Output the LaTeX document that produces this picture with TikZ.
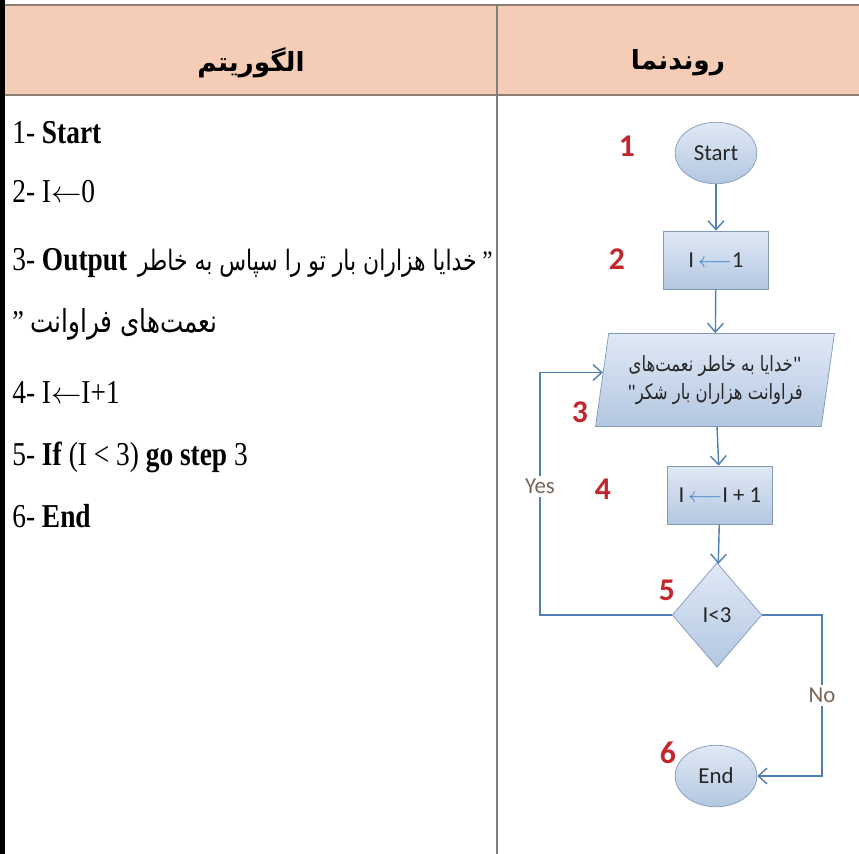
\documentclass[tikz,border=0pt]{standalone}
\usepackage{fontspec}
\usetikzlibrary{shapes.geometric,arrows.meta,calc}
\TeXXeTstate=1
\setmainfont{Liberation Serif}[FakeStretch=0.82]
\newfontfamily\fa[Script=Arabic,FakeStretch=0.78]{DejaVu Sans}
\newfontfamily\fahead[Script=Arabic]{DejaVu Sans}
\newfontfamily\flfont{Carlito}
\definecolor{hdrfill}{HTML}{F5CDB6}
\definecolor{hdrline}{HTML}{8C7D73}
\definecolor{gridline}{HTML}{7F7F7F}
\definecolor{shapetop}{HTML}{E0E9F5}
\definecolor{shapebot}{HTML}{B3C7E1}
\definecolor{shapeline}{HTML}{8199B6}
\definecolor{flowblue}{HTML}{4F7FB5}
\definecolor{arrowblue}{HTML}{3F80CC}
\definecolor{numred}{HTML}{C1272D}
\definecolor{lblbrown}{HTML}{7A6556}

\begin{document}
\begin{tikzpicture}[x=0.02cm,y=-0.02cm,
  alg/.style={anchor=base west,inner sep=0pt,font=\fontsize{19}{22}\selectfont},
  algfa/.style={alg,font=\fontsize{16}{22}\selectfont},
  hdr/.style={font=\fahead\bfseries\fontsize{15}{18}\selectfont},
  shp/.style={draw=shapeline,top color=shapetop,bottom color=shapebot,inner sep=1pt,
    text=black!85,font=\flfont\fontsize{13}{15}\selectfont},
  termbox/.style={shp,ellipse,minimum width=46.5pt,minimum height=35pt},
  procbox/.style={shp,rectangle,minimum width=59.5pt,minimum height=33pt},
  iobox/.style={shp,trapezium,trapezium left angle=76,trapezium right angle=104,
    trapezium stretches body,minimum width=136pt,minimum height=53pt,
    align=center,font=\fa\fontsize{12}{16}\selectfont},
  decbox/.style={shp,diamond,aspect=0.86,minimum width=51pt,minimum height=59.5pt},
  num/.style={text=numred,font=\flfont\bfseries\fontsize{18}{20}\selectfont},
  lbl/.style={fill=white,text=lblbrown,inner sep=2pt,font=\flfont\fontsize{13}{15}\selectfont},
  flow/.style={draw=flowblue,line width=0.8pt,-{Straight Barb[length=5pt,width=9pt]}}]

  \useasboundingbox (0,0) rectangle (859,854);
  \fill[white] (0,0) rectangle (859,854);
  \fill[black] (0,0) rectangle (5,854);

  % table frame
  \fill[hdrfill] (5,5) rectangle (859,95);
  \draw[hdrline,line width=0.6pt] (5,5) -- (859,5);
  \draw[hdrline,line width=1.4pt] (5,95) -- (859,95);
  \draw[gridline,line width=0.8pt] (497,5) -- (497,854);
  \node[hdr] (h1) at (251,63) {الگوریتم};
  \node[hdr] (h2) at (678,63) {روندنما};

  % algorithm
  \node[alg] (l1) at (12,144) {1- \textbf{Start}};
  \node[alg] (l2) at (12,203) {2- I$\leftarrow$0};
  \node[alg] (l3) at (12,271) {3- \textbf{Output}};
  \node[algfa,anchor=base east] (l3p) at (493,271) {\beginR{\rmfamily”} {\fa خدایا هزاران بار تو را سپاس به خاطر}\endR};
  \node[algfa,font=\fontsize{18}{22}\selectfont] (l3b) at (12,333) {\beginR{\fa نعمت^^^^200cهای فراوانت} {\rmfamily”}\endR};
  \node[alg] (l4) at (12,404) {4- I$\leftarrow$I+1};
  \node[alg] (l5) at (12,466) {5- \textbf{If} (I < 3) \textbf{go step} 3};
  \node[alg] (l6) at (12,528) {6- \textbf{End}};

  % flowchart
  \node[termbox] (start) at (716,153) {Start};
  \node[procbox] (init) at (716,260) {I\,{\color{arrowblue}$\longleftarrow$}1};
  \node[iobox] (out) at (715,380) {\beginR{\flfont"}خدایا به خاطر نعمت^^^^200cهای\endR\\
    \beginR فراوانت هزاران بار شکر{\flfont"}\endR};
  \node[procbox] (inc) at (720,495) {I\,{\color{arrowblue}$\longleftarrow$}I + 1};
  \node[decbox] (cond) at (717,615) {I<3};
  \node[termbox] (stop) at (716,776) {End};

  \node[num] (n1) at (627,146) {1};
  \node[num] (n2) at (617,259) {2};
  \node[num] (n3) at (580,412) {3};
  \node[num] (n4) at (603,489) {4};
  \node[num] (n5) at (667,590) {5};
  \node[num] (n6) at (668,753) {6};

  \coordinate (loopL) at (540,0);
  \coordinate (loopR) at (822,0);
  \coordinate (outin) at ($(out.top left corner)!0.42!(out.bottom left corner)$);

  \draw[flow] (start) -- (init);
  \draw[flow] (init) -- (out);
  \draw[flow] (out) -- (inc);
  \draw[flow] (inc) -- (cond);
  \draw[flow] (cond.west) -- (cond.west -| loopL) -- node[lbl,pos=0.53]{Yes} (outin -| loopL) -- (outin);
  \draw[flow] (cond.east) -- (cond.east -| loopR) -- node[lbl,pos=0.5]{No} (stop.east -| loopR) -- (stop.east);
\end{tikzpicture}
\end{document}
